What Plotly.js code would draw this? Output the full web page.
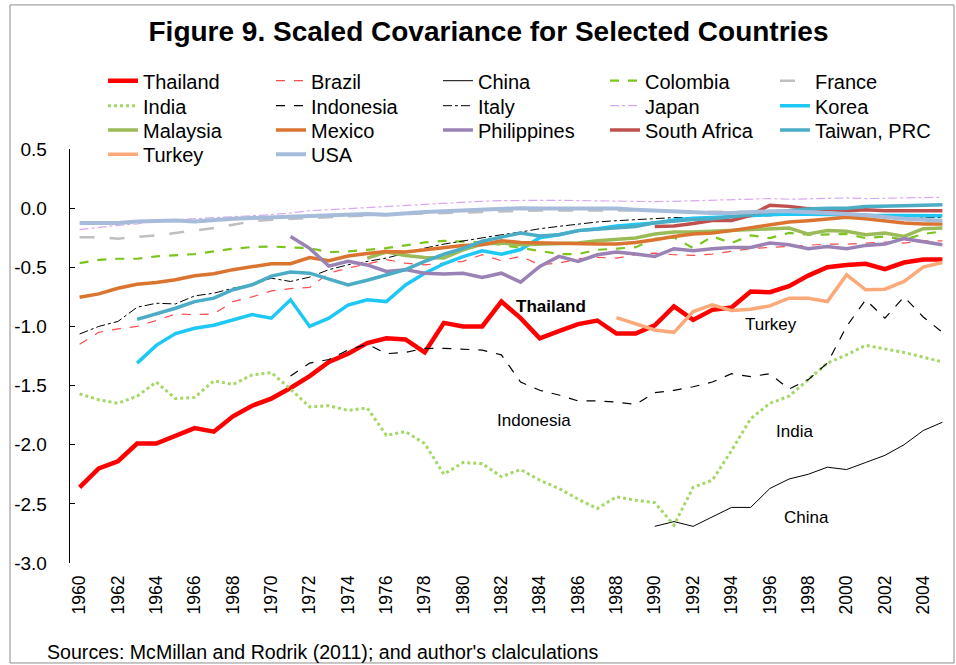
<!DOCTYPE html>
<html><head><meta charset="utf-8">
<script src="https://cdn.plot.ly/plotly-3.0.1.min.js"></script>
<style>html,body{margin:0;padding:0;background:#fff}</style>
</head><body><div id="chart" style="width:956px;height:665px"></div>
<script>
const years = [1960,1961,1962,1963,1964,1965,1966,1967,1968,1969,1970,1971,1972,1973,1974,1975,1976,1977,1978,1979,1980,1981,1982,1983,1984,1985,1986,1987,1988,1989,1990,1991,1992,1993,1994,1995,1996,1997,1998,1999,2000,2001,2002,2003,2004,2005];
const xTickVals = [1960,1962,1964,1966,1968,1970,1972,1974,1976,1978,1980,1982,1984,1986,1988,1990,1992,1994,1996,1998,2000,2002,2004];
const xTickLabels = ['1960','1962','1964','1966','1968','1970','1972','1974','1976','1978','1980','1982','1984','1986','1988','1990','1992','1994','1996','1998','2000','2002','2004'];
const yTickVals = [0.5,0,-0.5,-1,-1.5,-2,-2.5,-3];
const yTickLabels = ['0.5','0.0','-0.5','-1.0','-1.5','-2.0','-2.5','-3.0'];

const thailand = [-2.36,-2.20,-2.14,-1.99,-1.99,-1.92,-1.86,-1.89,-1.76,-1.67,-1.61,-1.52,-1.42,-1.30,-1.23,-1.14,-1.10,-1.11,-1.22,-0.97,-1.00,-1.00,-0.79,-0.93,-1.10,-1.04,-0.98,-0.95,-1.06,-1.06,-0.99,-0.83,-0.945,-0.86,-0.84,-0.705,-0.71,-0.66,-0.57,-0.50,-0.48,-0.47,-0.515,-0.46,-0.435,-0.435];
const brazil = [-1.15,-1.05,-1.02,-1.00,-0.95,-0.895,-0.90,-0.895,-0.79,-0.75,-0.70,-0.68,-0.67,-0.55,-0.507,-0.473,-0.436,-0.465,-0.479,-0.465,-0.45,-0.394,-0.445,-0.408,-0.479,-0.465,-0.428,-0.417,-0.422,-0.394,-0.38,-0.394,-0.40,-0.388,-0.366,-0.343,-0.332,-0.324,-0.315,-0.304,-0.304,-0.295,-0.287,-0.295,-0.276,-0.276];
const china = [null,null,null,null,null,null,null,null,null,null,null,null,null,null,null,null,null,null,null,null,null,null,null,null,null,null,null,null,null,null,-2.69,-2.65,-2.69,-2.61,-2.53,-2.53,-2.37,-2.29,-2.25,-2.19,-2.21,-2.15,-2.09,-2.00,-1.88,-1.81];
const colombia = [-0.465,-0.437,-0.428,-0.428,-0.408,-0.40,-0.388,-0.366,-0.343,-0.329,-0.324,-0.332,-0.338,-0.372,-0.366,-0.352,-0.338,-0.315,-0.29,-0.276,-0.281,-0.29,-0.31,-0.338,-0.36,-0.388,-0.388,-0.352,-0.343,-0.33,-0.26,-0.247,-0.338,-0.239,-0.295,-0.23,-0.253,-0.21,-0.225,-0.219,-0.219,-0.253,-0.239,-0.267,-0.219,-0.196];
const france = [-0.247,-0.247,-0.258,-0.247,-0.23,-0.21,-0.19,-0.168,-0.14,-0.112,-0.098,-0.09,-0.083,-0.078,-0.07,-0.06,-0.055,-0.05,-0.045,-0.04,-0.035,-0.03,-0.025,-0.02,-0.02,-0.02,-0.02,-0.02,-0.015,-0.015,-0.02,-0.025,-0.03,-0.03,-0.03,-0.035,-0.04,-0.04,-0.045,-0.05,-0.05,-0.055,-0.06,-0.065,-0.07,-0.075];
const india = [-1.57,-1.62,-1.65,-1.59,-1.47,-1.61,-1.60,-1.46,-1.49,-1.41,-1.39,-1.53,-1.68,-1.67,-1.71,-1.69,-1.92,-1.89,-1.99,-2.25,-2.15,-2.16,-2.27,-2.21,-2.30,-2.37,-2.46,-2.54,-2.44,-2.47,-2.49,-2.68,-2.36,-2.30,-2.05,-1.78,-1.65,-1.59,-1.45,-1.31,-1.24,-1.16,-1.19,-1.22,-1.26,-1.30];
const indonesia = [null,null,null,null,null,null,null,null,null,null,null,-1.42,-1.31,-1.28,-1.20,-1.15,-1.23,-1.22,-1.185,-1.185,-1.19,-1.20,-1.24,-1.47,-1.54,-1.58,-1.63,-1.63,-1.64,-1.66,-1.56,-1.54,-1.51,-1.47,-1.40,-1.425,-1.40,-1.53,-1.45,-1.31,-1.00,-0.775,-0.93,-0.75,-0.92,-1.05];
const italy = [-1.064,-1.00,-0.958,-0.838,-0.804,-0.81,-0.742,-0.719,-0.677,-0.648,-0.592,-0.62,-0.583,-0.52,-0.479,-0.45,-0.422,-0.38,-0.338,-0.304,-0.276,-0.253,-0.225,-0.202,-0.174,-0.154,-0.134,-0.117,-0.106,-0.098,-0.085,-0.08,-0.08,-0.075,-0.075,-0.07,-0.065,-0.06,-0.06,-0.06,-0.06,-0.065,-0.065,-0.07,-0.075,-0.08];
const japan = [-0.182,-0.162,-0.145,-0.134,-0.106,-0.098,-0.09,-0.078,-0.07,-0.061,-0.055,-0.041,-0.021,-0.013,-0.004,0.007,0.015,0.024,0.035,0.044,0.052,0.058,0.064,0.066,0.069,0.066,0.064,0.061,0.058,0.052,0.055,0.058,0.062,0.066,0.07,0.075,0.081,0.075,0.078,0.082,0.086,0.081,0.083,0.086,0.088,0.092];
const korea = [null,null,null,-1.31,-1.16,-1.06,-1.015,-0.99,-0.945,-0.90,-0.93,-0.775,-1.00,-0.93,-0.82,-0.775,-0.79,-0.65,-0.55,-0.47,-0.41,-0.36,-0.39,-0.35,-0.25,-0.225,-0.19,-0.175,-0.15,-0.14,-0.125,-0.10,-0.085,-0.08,-0.07,-0.06,-0.055,-0.05,-0.05,-0.055,-0.055,-0.06,-0.06,-0.065,-0.065,-0.065];
const malaysia = [null,null,null,null,null,null,null,null,null,null,null,null,null,null,null,-0.422,-0.371,-0.40,-0.417,-0.422,-0.352,-0.304,-0.295,-0.31,-0.304,-0.304,-0.295,-0.276,-0.267,-0.253,-0.219,-0.202,-0.202,-0.196,-0.19,-0.182,-0.174,-0.168,-0.219,-0.19,-0.196,-0.225,-0.21,-0.239,-0.174,-0.168];
const mexico = [-0.753,-0.725,-0.677,-0.643,-0.629,-0.606,-0.572,-0.555,-0.52,-0.493,-0.47,-0.47,-0.417,-0.445,-0.405,-0.383,-0.366,-0.37,-0.35,-0.332,-0.315,-0.31,-0.275,-0.29,-0.295,-0.301,-0.304,-0.304,-0.304,-0.29,-0.267,-0.239,-0.219,-0.21,-0.19,-0.168,-0.14,-0.117,-0.106,-0.09,-0.078,-0.09,-0.106,-0.126,-0.134,-0.134];
const philippines = [null,null,null,null,null,null,null,null,null,null,null,-0.24,-0.34,-0.49,-0.45,-0.48,-0.535,-0.52,-0.55,-0.557,-0.55,-0.586,-0.55,-0.626,-0.493,-0.408,-0.45,-0.394,-0.371,-0.388,-0.408,-0.343,-0.36,-0.343,-0.332,-0.332,-0.295,-0.31,-0.343,-0.324,-0.343,-0.315,-0.304,-0.258,-0.281,-0.31];
const southAfrica = [null,null,null,null,null,null,null,null,null,null,null,null,null,null,null,null,null,null,null,null,null,null,null,null,null,null,null,null,null,null,-0.155,-0.15,-0.13,-0.105,-0.105,-0.06,0.025,0.015,-0.004,-0.013,-0.021,-0.013,-0.021,-0.021,-0.021,-0.021];
const taiwan = [null,null,null,-0.94,-0.894,-0.846,-0.79,-0.761,-0.69,-0.648,-0.575,-0.54,-0.55,-0.60,-0.65,-0.61,-0.565,-0.52,-0.45,-0.39,-0.34,-0.28,-0.245,-0.21,-0.235,-0.225,-0.19,-0.18,-0.17,-0.155,-0.124,-0.11,-0.096,-0.09,-0.075,-0.055,-0.035,-0.018,-0.007,0.0,0.0,0.014,0.02,0.02,0.024,0.028];
const turkey = [null,null,null,null,null,null,null,null,null,null,null,null,null,null,null,null,null,null,null,null,null,null,null,null,null,null,null,null,-0.925,-0.98,-1.03,-1.05,-0.874,-0.818,-0.866,-0.855,-0.826,-0.761,-0.761,-0.79,-0.564,-0.69,-0.685,-0.62,-0.498,-0.459];
const usa = [-0.126,-0.126,-0.126,-0.112,-0.104,-0.104,-0.112,-0.098,-0.09,-0.083,-0.078,-0.07,-0.061,-0.055,-0.05,-0.05,-0.055,-0.041,-0.033,-0.027,-0.021,-0.013,-0.004,0.0,-0.004,-0.004,-0.004,0.0,-0.004,-0.013,-0.021,-0.03,-0.033,-0.041,-0.041,-0.033,-0.027,-0.027,-0.033,-0.041,-0.05,-0.061,-0.078,-0.09,-0.098,-0.106];

const FONT = 'Liberation Sans, Arial, sans-serif';

const series = [
  {name:'Thailand', y:thailand, color:'#FF0000', width:4.5, dash:'solid'},
  {name:'Brazil', y:brazil, color:'#FF4B4B', width:1.2, dash:'dash'},
  {name:'China', y:china, color:'#000000', width:1, dash:'solid'},
  {name:'Colombia', y:colombia, color:'#7CC51E', width:2.2, dash:'dash'},
  {name:'France', y:france, color:'#BFBFBF', width:2.5, dash:'longdash'},
  {name:'India', y:india, color:'#A4D865', width:3, dash:'dot'},
  {name:'Indonesia', y:indonesia, color:'#000000', width:1.2, dash:'dash'},
  {name:'Italy', y:italy, color:'#000000', width:1, dash:'dashdot'},
  {name:'Japan', y:japan, color:'#D9A8F0', width:1.2, dash:'dashdot'},
  {name:'Korea', y:korea, color:'#1EC8F5', width:3.5, dash:'solid'},
  {name:'Malaysia', y:malaysia, color:'#9BBB59', width:3.5, dash:'solid'},
  {name:'Mexico', y:mexico, color:'#DB7430', width:3.5, dash:'solid'},
  {name:'Philippines', y:philippines, color:'#9A82B5', width:3.5, dash:'solid'},
  {name:'South Africa', y:southAfrica, color:'#C0504D', width:3.5, dash:'solid'},
  {name:'Taiwan, PRC', y:taiwan, color:'#4BACC6', width:3.5, dash:'solid'},
  {name:'Turkey', y:turkey, color:'#FCA97A', width:3.5, dash:'solid'},
  {name:'USA', y:usa, color:'#A7BCDA', width:4, dash:'solid'}
];

// legend grid: 5 columns x 4 rows, one small legend per entry
const legendColX = [0.0374, 0.2279, 0.4172, 0.6066, 0.7993];
const legendRowY = [1.1650, 1.1046, 1.0459, 0.9872];
const legendId = i => (i === 0 ? 'legend' : 'legend' + (i + 1));

const traces = series.map((s, i) => ({
  type:'scatter', mode:'lines', name:s.name, x:years, y:s.y,
  line:{color:s.color, width:s.width, dash:s.dash},
  connectgaps:false, legend:legendId(i), hoverinfo:'skip'
}));

const boundaryTicks = years.filter((y,i)=>i%2===1).map(y=>y+0.5);

const layout = {
  width:956, height:665,
  margin:{l:70, r:4, t:149, b:102},
  paper_bgcolor:'#fff', plot_bgcolor:'#fff',
  font:{family:FONT, color:'#000'},
  title:{text:'Figure 9. Scaled Covariance for Selected Countries',
    font:{family:FONT, size:28, color:'#000', weight:'bold'},
    x:0.511, xref:'container', xanchor:'center', y:0.953, yref:'container', yanchor:'middle'},
  showlegend:true,
  xaxis:{range:[1959.5,2005.5], tickmode:'array', tickvals:xTickVals, ticktext:xTickLabels,
    tickangle:-90, ticks:'', showline:false, showgrid:false, zeroline:false,
    tickfont:{family:FONT,size:17.5,color:'#000'}, ticklabelstandoff:8, fixedrange:true},
  xaxis2:{range:[1959.5,2005.5], overlaying:'x', anchor:'free', position:3/3.5, side:'bottom',
    tickmode:'array', tickvals:boundaryTicks, ticks:'inside', ticklen:5, tickwidth:1, tickcolor:'#000',
    showticklabels:false, showline:true, linecolor:'#000', linewidth:1.3, showgrid:false, zeroline:false},
  yaxis:{range:[-3,0.5], tickmode:'array', tickvals:yTickVals, ticktext:yTickLabels,
    ticks:'inside', ticklen:5, tickwidth:1, tickcolor:'#000', showline:true, linecolor:'#000', linewidth:1.3,
    showgrid:false, zeroline:false, tickfont:{family:FONT,size:19,color:'#000'}, ticklabelstandoff:18},
  annotations:[
    {text:'<b>Thailand</b>', x:1984.6, y:-0.835, xref:'x', yref:'y', showarrow:false, font:{family:FONT,size:17,color:'#000'}},
    {text:'Turkey', x:1996.06, y:-0.987, xref:'x', yref:'y', showarrow:false, font:{family:FONT,size:17,color:'#000'}},
    {text:'Indonesia', x:1983.7, y:-1.792, xref:'x', yref:'y', showarrow:false, font:{family:FONT,size:17,color:'#000'}},
    {text:'India', x:1997.3, y:-1.886, xref:'x', yref:'y', showarrow:false, font:{family:FONT,size:17,color:'#000'}},
    {text:'China', x:1997.9, y:-2.614, xref:'x', yref:'y', showarrow:false, font:{family:FONT,size:17,color:'#000'}},
    {text:"Sources: McMillan and Rodrik (2011); and author's clalculations", x:-0.0283, y:-0.215, xref:'paper', yref:'paper',
      xanchor:'left', yanchor:'middle', showarrow:false, font:{family:FONT,size:19.6,color:'#000'}}
  ],
  shapes:[
    {type:'rect', xref:'paper', yref:'paper', x0:-0.068, x1:1.0023, y0:-0.2415, y1:1.348, line:{color:'#8C8C8C', width:1}, layer:'below'}
  ]
};

series.forEach((s, i) => {
  layout[legendId(i)] = {orientation:'v', x:legendColX[i % 5], xanchor:'left',
    y:legendRowY[Math.floor(i / 5)], yanchor:'middle',
    font:{family:FONT,size:20,color:'#000'}, bgcolor:'rgba(0,0,0,0)', borderwidth:0};
});

Plotly.newPlot('chart', traces, layout, {displayModeBar:false, staticPlot:true});
</script>
</body></html>
